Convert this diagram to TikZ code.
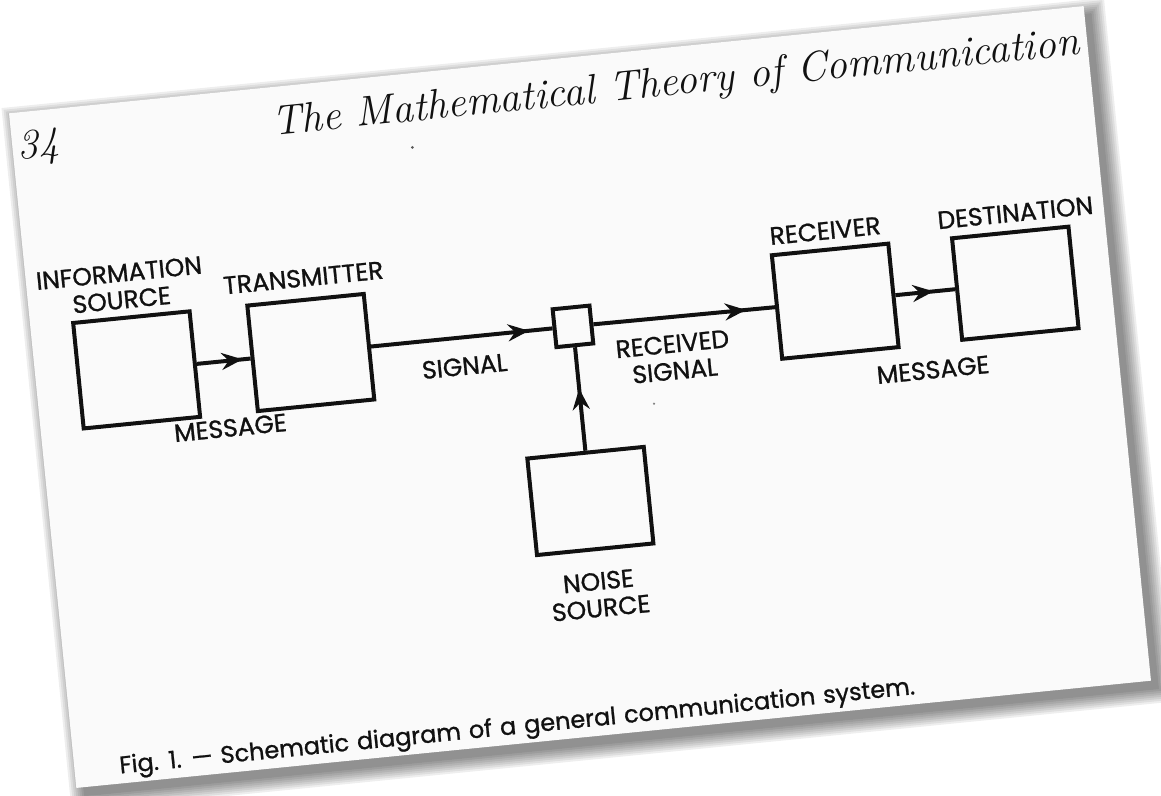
\documentclass[tikz,border=0pt]{standalone}
\usepackage{fontspec}
\newfontfamily\labelfont{Poppins}[FakeBold=1]
\newfontfamily\capfont{Poppins}[FakeBold=1, WordSpace=1.25]
\usetikzlibrary{arrows.meta, positioning, decorations.markings}

\definecolor{paper}{RGB}{250,250,250}
\definecolor{ink}{RGB}{17,17,17}

\begin{document}
\begin{tikzpicture}[
    x=1pt, y=-1pt,
    blk/.style={draw=ink, line width=4pt, fill=paper, minimum width=117pt, minimum height=106pt, inner sep=0pt},
    lbl/.style={font=\labelfont\fontsize{25}{27}\selectfont, text=ink, align=center, inner sep=0pt},
    sig/.style={draw=ink, line width=4pt, postaction={decorate},
      decoration={markings, mark=at position #1 with {\arrow{Stealth[length=21pt, width=17pt, inset=7pt]}}}}]
  \useasboundingbox (0,0) rectangle (1161,795);
  \fill[white] (0,0) rectangle (1161,795);
  \begin{scope}[shift={(580,397)}, rotate=5.7, transform shape]
    % page with its shadow
    \foreach \g in {0,2,...,14}
      \fill[black, opacity=0.065] (-533-\g,-331-\g) rectangle (547+\g,348+\g);
    \fill[paper] (-540,-339) rectangle (540,339);
    \fill[ink!70] (-142,-265) circle (1.5);
    \fill[gray] (73,14) circle (1.2);

    % running head
    \node[font=\itshape\fontsize{42}{46}\selectfont, text=ink, anchor=base west, inner sep=0pt] (pg) at (-535,-292) {34};
    \node[font=\itshape\fontsize{42}{46}\selectfont\addfontfeatures{LetterSpace=4}, text=ink, anchor=base east, inner sep=0pt] (ttl) at (532,-291) {The Mathematical Theory of Communication};

    % blocks
    \node[blk] (src) at (-438.5,-71) {};
    \node[blk, right=54pt of src] (tx) {};
    \node[blk, minimum width=37pt, minimum height=38pt] (mix) at (0,-71) {};
    \node[blk, minimum height=104pt] (rx) at (263.5,-70) {};
    \node[blk, minimum height=102pt, right=60pt of rx] (dst) {};
    \node[blk, minimum height=97pt, below=104pt of mix] (nse) {};

    \node[lbl, above=7pt of src, xshift=-8pt] {INFORMATION\\SOURCE};
    \node[lbl, above=11pt of tx] {TRANSMITTER};
    \node[lbl, above=8pt of rx, xshift=-3pt] {RECEIVER};
    \node[lbl, above=8pt of dst, xshift=7pt] {DESTINATION};
    \node[lbl, below=21pt of nse] {NOISE\\SOURCE};

    % signal path
    \draw[sig=0.85] (src.east) -- node[lbl, below=56pt] {MESSAGE} (tx.west);
    \draw[sig=0.87] (tx.east) -- node[lbl, below=18pt] {SIGNAL} (mix.west);
    \draw[sig=0.84] (mix.east) -- node[lbl, below=16pt, pos=0.42] {RECEIVED\\SIGNAL} (rx.west);
    \draw[sig=0.64] (rx.east) -- node[lbl, below=67pt] {MESSAGE} (dst.west);
    \draw[sig=0.6] (nse.north) -- (mix.south);

    \node[lbl, anchor=base west, align=left, font=\capfont\fontsize{24}{26}\selectfont] (cap) at (-495,329)
      {Fig. 1. — Schematic diagram of a general communication system.};
  \end{scope}
\end{tikzpicture}
\end{document}
